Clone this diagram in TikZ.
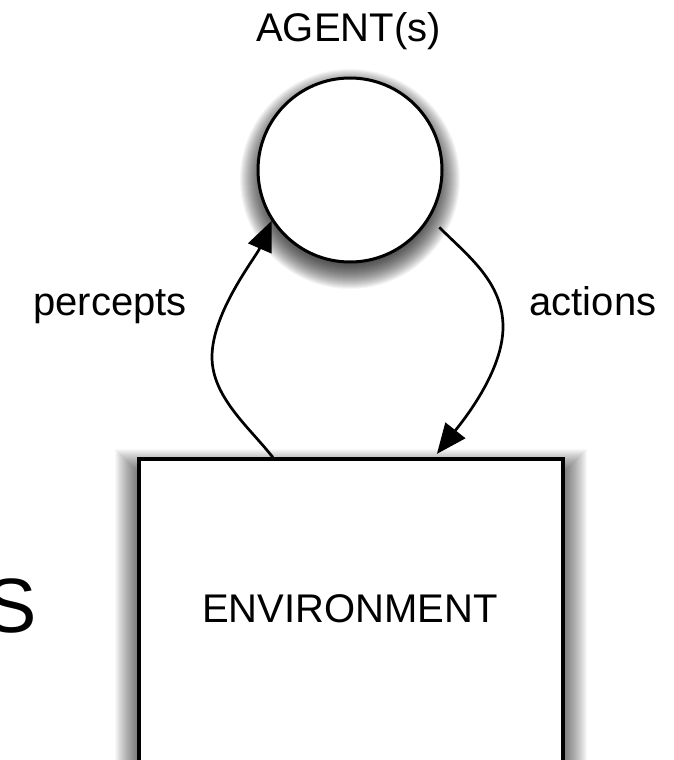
\documentclass[tikz,border=0pt]{standalone}
\usepackage{fontspec}
\setmainfont{Liberation Sans}
\usetikzlibrary{arrows.meta,calc}
\begin{document}
\begin{tikzpicture}[x=1pt,y=-1pt,
  lbl/.style={font=\fontsize{40}{48}\selectfont, inner sep=0pt, anchor=base},
  roundshadow/.style={fill=black, opacity=0.04},
  boxshadow/.style={fill=black, opacity=0.028},
  agentnode/.style={circle, draw, line width=3pt, fill=white,
      minimum size=184pt, inner sep=0pt},
  envnode/.style={rectangle, draw, line width=3.2pt, fill=white,
      minimum width=424pt, minimum height=400pt, inner sep=0pt},
  flow/.style={line width=2.7pt, -{Triangle[length=30pt,width=25pt]}}
]
\useasboundingbox (0,0) rectangle (673,760);
\clip (0,0) rectangle (673,760);
\fill[white] (0,0) rectangle (673,760);

% soft drop shadows, built from stacked translucent layers
\foreach \k in {1,...,26}{
  \fill[roundshadow] (350,179) circle[radius={(84+\k)*1pt}];
}
\foreach \k in {1,...,24}{
  \fill[boxshadow] (139-\k,473-\k) rectangle (563+\k,900);
}

% agent and environment
\node[agentnode] (agent) at (350,170) {};
\node[envnode] (env) at (351,659) {};

% percepts: environment -> agent
\draw[flow] ($(env.north west)+(135.5,0)$)
  .. controls (249,427) and (212,397) .. (212,357)
  .. controls (212,312) and (256,257) .. (agent.213);

% actions: agent -> environment
\draw[flow, shorten <=13pt] (agent.329)
  .. controls (468,256) and (503,282) .. (503,327)
  .. controls (503,372) and (462,422) .. ($(env.north west)+(299.5,-3.5)$);

% labels
\node[lbl] (agentlbl) at (348.5,42) {AGENT(s)};
\node[lbl] (perclbl) at (110,315) {percepts};
\node[lbl] (actlbl) at (593,315) {actions};
\node[lbl] (envlbl) at (350,622) {ENVIRONMENT};
\node[font=\fontsize{77}{90}\selectfont, inner sep=0pt, anchor=base east] (sfrag) at (37,632) {S};
\end{tikzpicture}
\end{document}
